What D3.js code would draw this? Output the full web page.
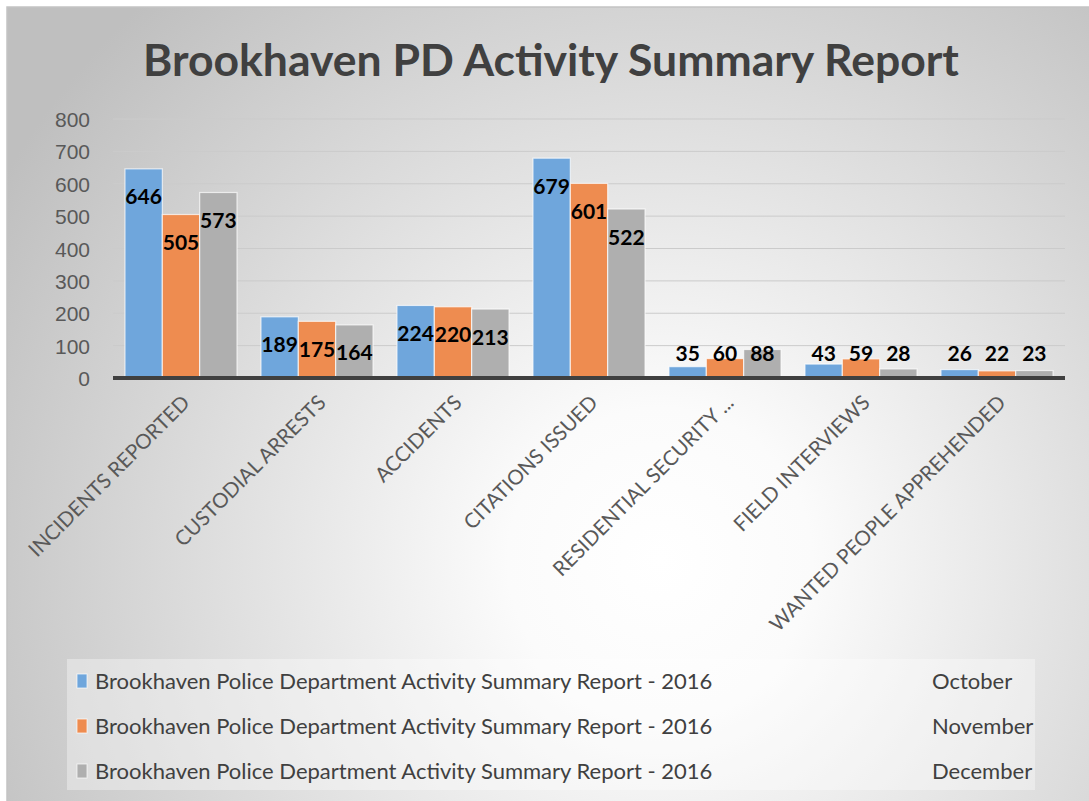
<!doctype html>
<html>
<head>
  <meta charset="utf-8">
  <script src="https://d3js.org/d3.v7.min.js"></script>
  <style>
    body { margin: 0; background: #fff; }
    svg { display: block; font-family: Lato, "Open Sans", sans-serif; }
    .tick text { fill: #595959; font-size: 21px; }
    .grid line { stroke: #cbcbcb; stroke-width: 1px; }
    .cat-label { fill: #595959; font-size: 20.5px; }
    .value-label { fill: #000; font-size: 21px; font-weight: 700; }
    .legend text { fill: #404040; font-size: 22px; }
  </style>
</head>
<body>
<script>
  // chart values
  var categories = ["INCIDENTS REPORTED", "CUSTODIAL ARRESTS", "ACCIDENTS", "CITATIONS ISSUED",
    "RESIDENTIAL SECURITY ...", "FIELD INTERVIEWS", "WANTED PEOPLE APPREHENDED"];
  var months = ["October", "November", "December"];
  var october = [646, 189, 224, 679, 35, 43, 26];
  var november = [505, 175, 220, 601, 60, 59, 22];
  var december = [573, 164, 213, 522, 88, 28, 23];
  var yTicks = [0, 100, 200, 300, 400, 500, 600, 700, 800];
  var seriesName = "Brookhaven Police Department Activity Summary Report - 2016";
  var title = "Brookhaven PD Activity Summary Report";

  var series = [october, november, december];
  var colors = ["#6fa6dc", "#ee8c50", "#afafaf"];

  var width = 1089, height = 801;
  var svg = d3.select("body").append("svg")
    .attr("width", width)
    .attr("height", height);

  var defs = svg.append("defs");
  var grad = defs.append("radialGradient")
    .attr("id", "bg")
    .attr("gradientUnits", "userSpaceOnUse")
    .attr("cx", 660).attr("cy", 560).attr("r", 760);
  grad.append("stop").attr("offset", "0").attr("stop-color", "#ffffff");
  grad.append("stop").attr("offset", "0.2").attr("stop-color", "#fbfbfb");
  grad.append("stop").attr("offset", "1").attr("stop-color", "#bfbfbf");

  svg.append("rect")
    .attr("x", 7).attr("y", 7)
    .attr("width", width + 10).attr("height", height + 10)
    .attr("fill", "url(#bg)")
    .attr("stroke", "#c4c4c4")
    .attr("stroke-width", 1.5);

  svg.append("text")
    .attr("x", 551).attr("y", 76)
    .attr("text-anchor", "middle")
    .style("font-size", "44.5px")
    .style("font-weight", 700)
    .style("fill", "#404040")
    .text(title);

  var x = d3.scaleBand()
    .domain(categories)
    .range([113, 1065])
    .paddingInner(0.176)
    .paddingOuter(0.088);

  var xs = d3.scaleBand()
    .domain(d3.range(series.length))
    .range([0, x.bandwidth()]);

  var y = d3.scaleLinear()
    .domain([0, 800])
    .range([378, 119]);

  // gridlines
  svg.append("g").attr("class", "grid")
    .selectAll("line")
    .data(yTicks.slice(1))
    .join("line")
    .attr("x1", 113).attr("x2", 1065)
    .attr("y1", function (d) { return y(d); })
    .attr("y2", function (d) { return y(d); });

  // y axis labels
  var yAxis = d3.axisLeft(y).tickValues(yTicks).tickSize(0).tickPadding(0);
  var yg = svg.append("g")
    .attr("transform", "translate(90,0)")
    .call(yAxis);
  yg.select(".domain").remove();
  yg.selectAll(".tick text").attr("font-family", null).attr("font-size", null).attr("dy", "0.36em");

  // bars
  var groups = svg.append("g").selectAll("g")
    .data(categories)
    .join("g")
    .attr("transform", function (d) { return "translate(" + x(d) + ",0)"; });

  groups.selectAll("rect")
    .data(function (d, i) { return series.map(function (s, j) { return { s: j, v: s[i] }; }); })
    .join("rect")
    .attr("x", function (d) { return xs(d.s); })
    .attr("width", xs.bandwidth())
    .attr("y", function (d) { return y(d.v); })
    .attr("height", function (d) { return y(0) - y(d.v); })
    .attr("fill", function (d) { return colors[d.s]; })
    .attr("stroke", "#ffffff")
    .attr("stroke-opacity", 0.7)
    .attr("stroke-width", 1.2);

  // value labels (inside end, kept above the axis)
  groups.selectAll("text")
    .data(function (d, i) { return series.map(function (s, j) { return { s: j, v: s[i] }; }); })
    .join("text")
    .attr("class", "value-label")
    .attr("x", function (d) { return xs(d.s) + xs.bandwidth() / 2; })
    .attr("y", function (d) { return Math.min(y(d.v) + 28, y(0) - 25) + 7.5; })
    .attr("text-anchor", "middle")
    .text(function (d) { return d.v; });

  // axis baseline
  svg.append("line")
    .attr("x1", 113).attr("x2", 1065)
    .attr("y1", y(0)).attr("y2", y(0))
    .attr("stroke", "#404040")
    .attr("stroke-width", 4);

  // category labels
  svg.append("g").selectAll("text")
    .data(categories)
    .join("text")
    .attr("class", "cat-label")
    .attr("text-anchor", "end")
    .attr("transform", function (d) {
      return "translate(" + (x(d) + x.bandwidth() / 2 + 10) + "," + 404 + ") rotate(-45)";
    })
    .text(function (d) { return d; });

  // legend
  var legend = svg.append("g").attr("class", "legend");
  legend.append("rect")
    .attr("x", 67).attr("y", 659)
    .attr("width", 968).attr("height", 131)
    .attr("fill", "#ffffff")
    .attr("fill-opacity", 0.35);

  var rows = legend.selectAll("g")
    .data(months)
    .join("g")
    .attr("transform", function (d, i) { return "translate(0," + (681 + i * 45) + ")"; });

  rows.append("rect")
    .attr("x", 77).attr("y", -7)
    .attr("width", 10).attr("height", 14)
    .attr("fill", function (d, i) { return colors[i]; })
    .attr("stroke", "#ffffff")
    .attr("stroke-opacity", 0.7);

  rows.append("text")
    .attr("x", 95).attr("dy", "0.36em")
    .text(seriesName);

  rows.append("text")
    .attr("x", 932).attr("dy", "0.36em")
    .text(function (d) { return d; });
</script>
</body>
</html>
